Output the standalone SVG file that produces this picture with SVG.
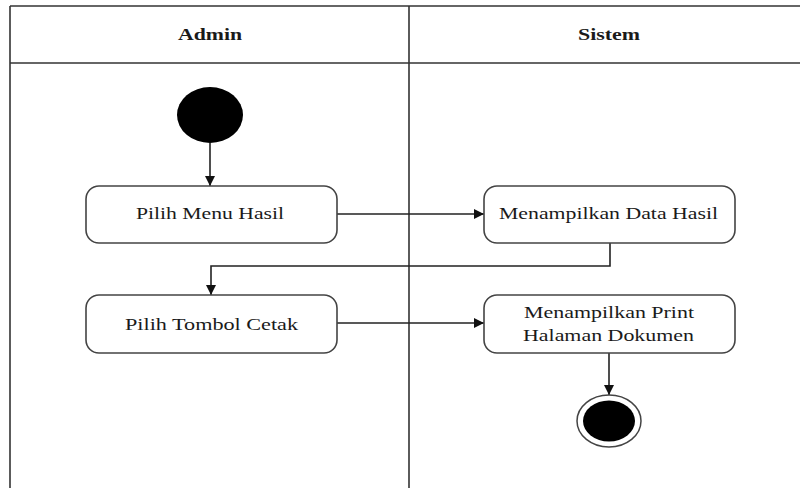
<svg xmlns="http://www.w3.org/2000/svg" width="800" height="488" viewBox="0 0 800 488">
  <style>
    .frame { fill: none; stroke: #333; stroke-width: 1.6; }
    .act { fill: #fff; stroke: #444; stroke-width: 1.6; }
    .flow { fill: none; stroke: #222; stroke-width: 1.6; }
    .lbl { font-family: "Liberation Serif", "Times New Roman", serif; font-size: 17px; fill: #1a1a1a; text-anchor: middle; }
    .hdr { font-family: "Liberation Serif", "Times New Roman", serif; font-size: 16px; font-weight: bold; fill: #1a1a1a; text-anchor: middle; }
  </style>
  <defs>
    <marker id="arrow" viewBox="0 0 10 10" refX="10" refY="5" markerWidth="10" markerHeight="10" markerUnits="userSpaceOnUse" orient="auto">
      <path d="M0,0 L10,5 L0,10 z" fill="#111"/>
    </marker>
  </defs>
  <rect width="800" height="488" fill="#fff"/>

  <!-- swimlanes -->
  <g id="lanes">
    <line class="frame" x1="10" y1="6" x2="800" y2="6"/>
    <line class="frame" x1="10" y1="6" x2="10" y2="488"/>
    <line class="frame" x1="10" y1="63" x2="800" y2="63"/>
    <line class="frame" x1="409" y1="6" x2="409" y2="488"/>
    <text class="hdr" x="210" y="40" textLength="64" lengthAdjust="spacingAndGlyphs">Admin</text>
    <text class="hdr" x="609" y="40" textLength="62" lengthAdjust="spacingAndGlyphs">Sistem</text>
  </g>

  <!-- connectors -->
  <g id="connectors">
    <line class="flow" x1="210" y1="143" x2="210" y2="186" marker-end="url(#arrow)"/>
    <line class="flow" x1="337" y1="214" x2="484" y2="214" marker-end="url(#arrow)"/>
    <polyline class="flow" points="610,243 610,266 211,266 211,295" marker-end="url(#arrow)"/>
    <line class="flow" x1="337" y1="323" x2="484" y2="323" marker-end="url(#arrow)"/>
    <line class="flow" x1="609" y1="353" x2="609" y2="395" marker-end="url(#arrow)"/>
  </g>

  <g id="start">
    <ellipse cx="210" cy="115" rx="33" ry="28" fill="#000"/>
  </g>

  <g id="pilih-menu-hasil">
    <rect class="act" x="86" y="186" width="251" height="57" rx="13"/>
    <text class="lbl" x="210" y="219" textLength="148" lengthAdjust="spacingAndGlyphs">Pilih Menu Hasil</text>
  </g>

  <g id="menampilkan-data-hasil">
    <rect class="act" x="484" y="186" width="251" height="57" rx="13"/>
    <text class="lbl" x="608.5" y="219" textLength="219" lengthAdjust="spacingAndGlyphs">Menampilkan Data Hasil</text>
  </g>

  <g id="pilih-tombol-cetak">
    <rect class="act" x="86" y="295" width="251" height="58" rx="13"/>
    <text class="lbl" x="211.5" y="330" textLength="173" lengthAdjust="spacingAndGlyphs">Pilih Tombol Cetak</text>
  </g>

  <g id="menampilkan-print">
    <rect class="act" x="484" y="295" width="251" height="58" rx="13"/>
    <text class="lbl" x="609" y="318" textLength="170" lengthAdjust="spacingAndGlyphs">Menampilkan Print</text>
    <text class="lbl" x="608.5" y="341" textLength="171" lengthAdjust="spacingAndGlyphs">Halaman Dokumen</text>
  </g>

  <g id="end">
    <ellipse cx="609" cy="421" rx="32" ry="26" fill="#fff" stroke="#444" stroke-width="1.5"/>
    <ellipse cx="609" cy="421" rx="26" ry="20.5" fill="#000"/>
  </g>
</svg>
